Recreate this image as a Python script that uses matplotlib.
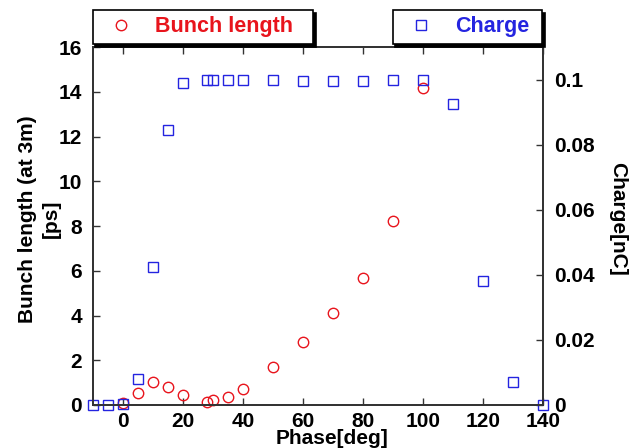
import matplotlib
matplotlib.use('Agg')
import matplotlib.pyplot as plt
from matplotlib.ticker import FuncFormatter

# Bunch length vs RF phase (red circles, left axis)
phase_bl = [0, 5, 10, 15, 20, 28, 30, 35, 40, 50, 60, 70, 80, 90, 100]
bunch_length = [0.07, 0.52, 1.03, 0.82, 0.46, 0.15, 0.22, 0.34, 0.71, 1.71, 2.83, 4.1, 5.69, 8.24, 14.15]

# Charge vs RF phase (blue squares, right axis)
phase_q = [-10, -5, 0, 5, 10, 15, 20, 28, 30, 35, 40, 50, 60, 70, 80, 90, 100, 110, 120, 130, 140]
charge = [0.0, 0.0, 0.0004, 0.0081, 0.0425, 0.0846, 0.099, 0.1, 0.1, 0.1, 0.1, 0.1,
          0.0996, 0.0996, 0.0996, 0.1, 0.1, 0.0925, 0.0382, 0.0071, 0.0]

x_ticks = [0, 20, 40, 60, 80, 100, 120, 140]
left_ticks = [0, 2, 4, 6, 8, 10, 12, 14, 16]
right_ticks = [0, 0.02, 0.04, 0.06, 0.08, 0.1]

red = '#e8141c'
blue = '#2424e0'
ink = '#333333'

plt.rcParams['font.family'] = 'Liberation Sans'
plt.rcParams['font.weight'] = 'bold'

fig = plt.figure(figsize=(6.4, 4.48), dpi=100)
ax = fig.add_axes([0.1458, 0.096, 0.7031, 0.799])
ax2 = ax.twinx()

l1, = ax.plot(phase_bl, bunch_length, 'o', ms=7.5, mfc='none', mec=red, mew=1.0,
              clip_on=False, label='Bunch length')
l2, = ax2.plot(phase_q, charge, 's', ms=7.5, mfc='none', mec=blue, mew=1.0,
               clip_on=False, label='Charge')

ax.set_xlim(-10, 140)
ax.set_ylim(0, 16)
ax2.set_ylim(0, 0.11)
ax.set_xticks(x_ticks)
ax.set_yticks(left_ticks)
ax2.set_yticks(right_ticks)
ax2.yaxis.set_major_formatter(FuncFormatter(lambda v, p: '%g' % v))

for a in (ax, ax2):
    for s in a.spines.values():
        s.set_color(ink)
        s.set_linewidth(1.3)

ax.tick_params(axis='x', direction='in', top=True, length=5, width=1, color=ink,
               labelsize=15, pad=5)
ax.tick_params(axis='y', direction='in', length=5, width=1, color=ink,
               labelsize=15, pad=8)
ax2.tick_params(axis='y', direction='in', length=5, width=1, color=ink,
                labelsize=15, pad=8)

ax.set_xlabel('Phase[deg]', fontsize=15, fontweight='bold')
ax.xaxis.set_label_coords(0.53, -0.068)
ax.set_ylabel('Bunch length (at 3m)\n[ps]', fontsize=15, fontweight='bold', linespacing=1.3)
ax.yaxis.set_label_coords(-0.073, 0.52)
ax2.set_ylabel('Charge[nC]', fontsize=15, fontweight='bold', rotation=270, va='bottom')
ax2.yaxis.set_label_coords(1.145, 0.52)

leg_kw = dict(loc='lower left', mode='expand', borderaxespad=0, fancybox=False,
              edgecolor='black', framealpha=1, borderpad=0.3, handlelength=2.0,
              handletextpad=0.6, labelcolor='markeredgecolor',
              shadow={'color': 'black', 'alpha': 1},
              prop={'family': 'Liberation Sans', 'weight': 'bold', 'size': 15.5})
lg1 = fig.legend(handles=[l1], bbox_to_anchor=(0.1448, 0.902, 0.3442, 0.08), **leg_kw)
lg2 = fig.legend(handles=[l2], bbox_to_anchor=(0.6136, 0.902, 0.2334, 0.08), **leg_kw)
for lg in (lg1, lg2):
    lg.get_frame().set_linewidth(1.2)

fig.savefig('out.png', dpi=100)
